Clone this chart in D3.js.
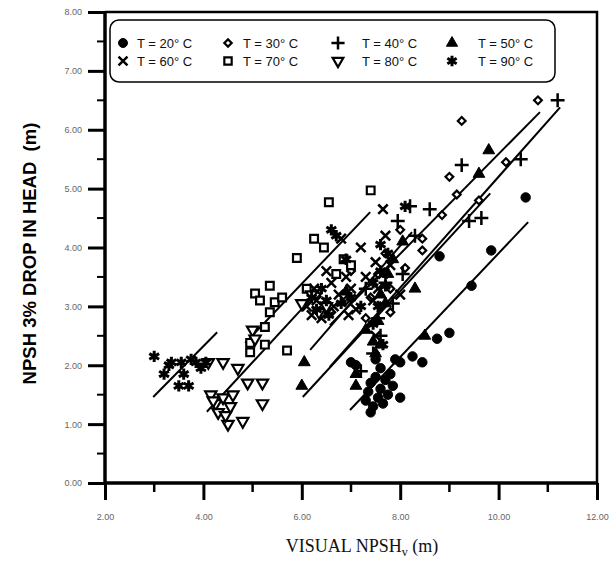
<!DOCTYPE html>
<html>
<head>
<meta charset="utf-8">
<script src="https://cdn.jsdelivr.net/npm/d3@7"></script>
<style>
  body { margin: 0; background: #fff; }
  svg { display: block; }
</style>
</head>
<body>
<svg id="chart" width="615" height="566"></svg>
<script>
// series: temperature label, marker and points [visual NPSH, NPSH 3%]
let temps = ["20", "30", "40", "50", "60", "70", "80", "90"];

let pts20 = [[7.0,2.05],[7.1,2.0],[7.3,1.4],[7.35,1.55],[7.4,1.7],[7.45,1.3],[7.5,1.8],[7.55,1.45],
  [7.6,1.95],[7.6,1.6],[7.65,1.35],[7.7,1.75],[7.75,1.5],[7.8,1.85],[7.85,1.65],[7.5,2.1],[8.0,1.45],
  [8.0,2.05],[8.25,2.15],[8.45,2.05],[8.75,2.45],[9.0,2.55],[9.45,3.35],[9.85,3.95],[10.55,4.85],
  [8.8,3.85],[7.9,2.1],[7.4,1.2]];
let pts30 = [[10.8,6.5],[9.25,6.15],[9.0,5.2],[10.15,5.45],[9.15,4.9],[9.6,4.8],[8.85,4.55],[8.45,3.95],
  [8.45,4.15],[8.1,3.65],[7.8,3.3],[7.6,3.0],[7.3,2.8],[6.9,3.1],[6.6,2.9],[7.0,3.6],[8.0,4.3],[7.7,3.9],
  [6.3,3.2],[7.4,3.15],[7.55,3.55],[7.8,2.9]];
let pts40 = [[11.2,6.5],[9.25,5.4],[10.45,5.5],[9.65,4.5],[9.4,4.45],[8.6,4.65],[8.2,4.7],[7.95,4.45],
  [8.3,4.2],[7.7,3.4],[8.05,3.55],[7.6,2.5],[7.45,2.2],[7.2,1.9],[7.55,2.8],[7.85,3.05],[7.3,3.3]];
let pts50 = [[9.8,5.65],[9.6,5.25],[6.05,2.05],[6.0,1.65],[7.1,1.65],[7.1,1.85],[7.45,2.4],[7.6,2.35],
  [8.5,2.5],[8.05,4.1],[7.85,3.8],[7.7,3.05],[7.55,2.75],[8.3,3.3],[6.9,3.25],[7.3,2.6],
  [7.6,3.2],[7.75,3.55],[7.5,2.2]];
let pts60 = [[7.65,4.65],[6.6,3.4],[6.3,3.1],[6.9,3.5],[7.0,3.3],[7.3,3.5],[6.1,3.0],[6.4,2.8],
  [7.5,3.75],[7.1,2.95],[6.75,3.2],[7.8,3.7],[6.8,4.15],[8.0,3.2],[7.2,4.0],[6.5,3.6],
  [6.25,3.3],[6.45,3.0],[6.65,3.0],[6.95,2.85],[7.45,3.1],[7.55,3.3],[7.65,3.55],[7.7,4.2],[7.5,2.5],[6.2,2.85]];
let pts70 = [[7.4,4.97],[6.55,4.77],[6.25,4.15],[6.45,4.0],[5.9,3.82],[5.05,3.22],[5.35,3.35],[5.45,3.07],
  [5.35,2.9],[4.95,2.38],[5.25,2.35],[4.95,2.22],[5.7,2.25],[6.85,3.8],[5.15,3.1],[5.6,3.15],[6.1,3.3],
  [7.0,3.7],[6.7,3.55],[5.25,2.65]];
let pts80 = [[4.4,2.05],[4.7,1.95],[4.9,1.7],[5.2,1.7],[5.2,1.35],[4.8,1.05],[4.5,1.0],[4.15,1.5],
  [4.25,1.35],[4.3,1.2],[4.4,1.45],[4.55,1.3],[4.6,1.5],[4.2,1.4],[5.0,2.6],[5.05,2.45],[6.35,2.9],
  [6.2,3.2],[4.1,2.05],[4.45,1.15],[6.0,3.05],[6.5,3.0]];
let pts90 = [[3.0,2.15],[3.2,1.85],[3.35,2.05],[3.5,1.65],[3.55,2.05],[3.7,1.65],[3.75,2.1],[3.85,2.05],
  [3.95,1.95],[4.05,2.05],[3.3,2.0],[3.6,1.85],[6.7,4.2],[6.6,4.3],[8.1,4.7],[7.2,3.0],[6.5,3.1],
  [7.6,4.05],[6.9,3.8],[7.7,3.35],[6.3,2.95],[7.45,3.4],
  [6.2,3.15],[6.4,3.3],[6.55,2.85],[6.8,3.05],[7.0,3.15],[7.55,3.0],[7.6,3.6],[7.75,3.9],[7.45,2.7],[7.65,2.35]];

// fitted lines per temperature [[x1,y1],[x2,y2]]
let fits = [
  [[6.98,1.24],[10.60,4.43]],
  [[6.57,2.68],[10.84,6.30]],
  [[6.57,1.97],[11.25,6.38]],
  [[6.02,1.46],[9.83,4.92]],
  [[6.17,2.26],[8.24,4.26]],
  [[4.85,2.38],[7.39,4.60]],
  [[4.07,1.21],[6.17,3.11]],
  [[2.98,1.46],[4.28,2.56]]
];

let xTicks = [2, 4, 6, 8, 10, 12];
let yTicks = [0, 1, 2, 3, 4, 5, 6, 7, 8];

let series = [
  { t: temps[0], pts: pts20, sym: d3.symbolCircle, fill: "#000", size: 70 },
  { t: temps[1], pts: pts30, sym: d3.symbolSquare, fill: "#fff", size: 30, rot: 45 },
  { t: temps[2], pts: pts40, sym: d3.symbolPlus, fill: "none", size: 65, sw: 2.5 },
  { t: temps[3], pts: pts50, sym: d3.symbolTriangle, fill: "#000", size: 60 },
  { t: temps[4], pts: pts60, sym: d3.symbolTimes, fill: "none", size: 60, sw: 2.5 },
  { t: temps[5], pts: pts70, sym: d3.symbolSquare, fill: "#fff", size: 60 },
  { t: temps[6], pts: pts80, sym: d3.symbolTriangle, fill: "#fff", size: 55, rot: 180 },
  { t: temps[7], pts: pts90, sym: d3.symbolAsterisk, fill: "none", size: 90, sw: 3 }
];

let svg = d3.select("#chart");
let x = d3.scaleLinear().domain([2, 12]).range([105, 597]);
let y = d3.scaleLinear().domain([0, 8]).range([483, 12]);

// frame (top / right)
svg.append("path")
  .attr("d", `M${x(2)},${y(8)}H${x(12)}V${y(0)}`)
  .attr("fill", "none").attr("stroke", "#000").attr("stroke-width", 2.5);

// minor ticks
let minorX = d3.range(3, 12, 2);
let minorY = d3.range(0.5, 8, 1);
svg.append("g").selectAll("line").data(minorX).enter().append("line")
  .attr("x1", d => x(d)).attr("x2", d => x(d))
  .attr("y1", y(0)).attr("y2", y(0) + 9)
  .attr("stroke", "#000").attr("stroke-width", 2.5);
svg.append("g").selectAll("line").data(minorY).enter().append("line")
  .attr("x1", x(2) - 8).attr("x2", x(2))
  .attr("y1", d => y(d)).attr("y2", d => y(d))
  .attr("stroke", "#000").attr("stroke-width", 2);

let xAxis = svg.append("g")
  .attr("transform", `translate(0,${y(0)})`)
  .call(d3.axisBottom(x).tickValues(xTicks).tickSize(17).tickPadding(14).tickFormat(d3.format(".2f")));
let yAxis = svg.append("g")
  .attr("transform", `translate(${x(2)},0)`)
  .call(d3.axisLeft(y).tickValues(yTicks).tickSize(17).tickPadding(6).tickFormat(d3.format(".2f")));

[xAxis, yAxis].forEach(g => {
  g.select(".domain").attr("stroke-width", 3.5);
  g.selectAll(".tick line").attr("stroke-width", 3);
  g.selectAll(".tick text").attr("font-family", "Arial, 'Liberation Sans', sans-serif")
    .attr("font-size", 9).attr("fill", "#666");
});
xAxis.select(".domain").attr("d", `M${x(2)},0H${x(12)}`);
yAxis.select(".domain").attr("d", `M0,${y(0)}V${y(8)}`);

// fitted lines
svg.append("g").selectAll("line").data(fits).enter().append("line")
  .attr("x1", d => x(d[0][0])).attr("y1", d => y(d[0][1]))
  .attr("x2", d => x(d[1][0])).attr("y2", d => y(d[1][1]))
  .attr("stroke", "#000").attr("stroke-width", 2);

let rotStr = (s) => s.rot ? ` rotate(${s.rot})` : "";
let strokeW = (s) => s.sw || (s.fill === "#000" ? 1 : 2.2);

// points
series.forEach(s => {
  svg.append("g").selectAll("path").data(s.pts).enter().append("path")
    .attr("d", d3.symbol().type(s.sym).size(s.size)())
    .attr("transform", d => `translate(${x(d[0])},${y(d[1])})` + rotStr(s))
    .attr("fill", s.fill)
    .attr("stroke", "#000")
    .attr("stroke-width", strokeW(s));
});

// legend
let legend = svg.append("g");
legend.append("rect")
  .attr("x", 110).attr("y", 20).attr("width", 445).attr("height", 62)
  .attr("rx", 9).attr("ry", 9)
  .attr("fill", "#fff").attr("stroke", "#000").attr("stroke-width", 1.5);

let colSym = [123, 228, 338, 452];
let colTxt = [137, 243, 362, 478];
let rowY = [43, 61];
series.forEach((s, i) => {
  let c = i % 4, r = Math.floor(i / 4);
  legend.append("path")
    .attr("d", d3.symbol().type(s.sym).size(s.size * 0.9)())
    .attr("transform", `translate(${colSym[c]},${rowY[r]})` + rotStr(s))
    .attr("fill", s.fill)
    .attr("stroke", "#000")
    .attr("stroke-width", strokeW(s));
  legend.append("text")
    .attr("x", colTxt[c]).attr("y", rowY[r] + 4.5)
    .attr("font-family", "Arial, 'Liberation Sans', sans-serif")
    .attr("font-size", 13).attr("fill", "#111")
    .text(`T = ${s.t}° C`);
});

// axis titles
svg.append("text")
  .attr("transform", `translate(36,${(y(0) + y(8)) / 2 + 6}) rotate(-90)`)
  .attr("text-anchor", "middle")
  .attr("font-family", "Arial, 'Liberation Sans', sans-serif")
  .attr("font-weight", "bold").attr("font-size", 18.5)
  .attr("xml:space", "preserve")
  .text("NPSH 3% DROP IN HEAD  (m)");

let xt = svg.append("text")
  .attr("x", 362).attr("y", 552)
  .attr("text-anchor", "middle")
  .attr("font-family", "'Liberation Serif', 'DejaVu Serif', serif")
  .attr("font-size", 18).attr("fill", "#111");
xt.append("tspan").text("VISUAL NPSH");
xt.append("tspan").attr("font-size", 12).attr("dy", 4).text("v");
xt.append("tspan").attr("dy", -4).text(" (m)");
</script>
</body>
</html>
